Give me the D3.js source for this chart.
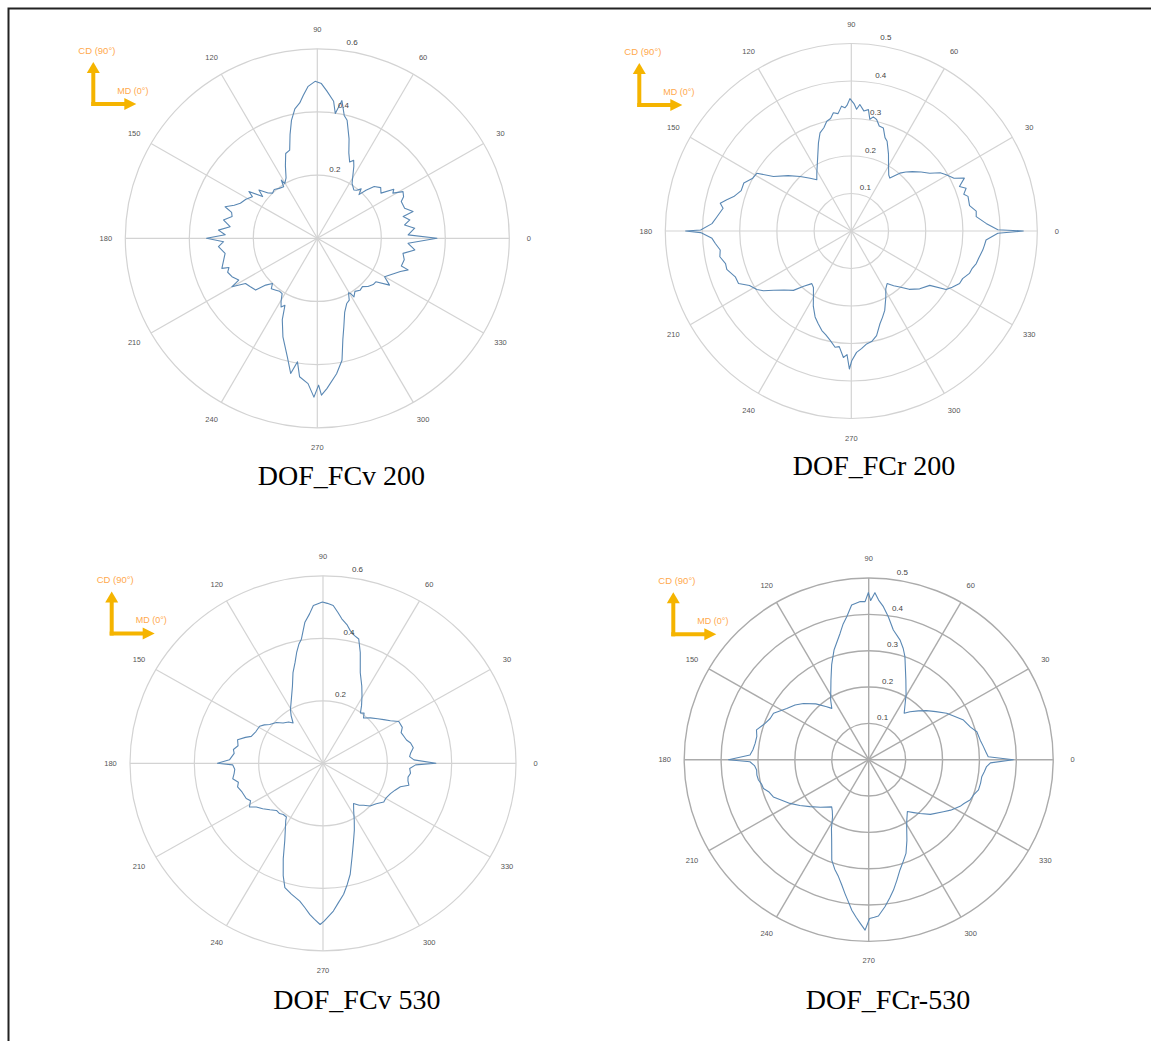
<!DOCTYPE html>
<html><head><meta charset="utf-8">
<script src="https://cdn.jsdelivr.net/npm/d3@7"></script>
<style>body{margin:0;background:#fff} svg{display:block}</style>
</head><body><svg id="c" width="1151" height="1041"></svg>
<script>
// ---------- DATA ----------
const captions = ["DOF_FCv 200", "DOF_FCr 200", "DOF_FCv 530", "DOF_FCr-530"];
const angleTicks = [0, 30, 60, 90, 120, 150, 180, 210, 240, 270, 300, 330];
const ringTicksV = [0.2, 0.4, 0.6];
const ringTicksR = [0.1, 0.2, 0.3, 0.4, 0.5];
const cdLabel = "CD (90°)";
const mdLabel = "MD (0°)";

const fcv200Angles = [0,2.2,6,8.8,11.4,14.4,15.8,19.2,23.9,26,28.9,31.2,33,35.7,39,42.7,45,46.7,48.8,51,53.3,58,63.4,65.3,67.3,70,72.5,76,77.8,80,81.9,83.3,86.3,88.5,90.8,93.4,95.5,97.3,99.7,102.2,104.5,107.2,110.2,113.5,117,120.4,121.4,122.8,127,131,134.4,137,140,142.3,145.3,147,151,155.2,158,160.9,163,165.5,168.8,172.3,175.2,177.8,180,182.1,184.9,189.4,193,197.7,198.5,201,204.5,208.3,209.9,212.5,216,220.4,222.6,225.6,228,231.8,235,237.9,240.5,242.5,244.5,247,251,256,259,261,262.8,266.4,268.8,270.5,271.5,273.6,278,281.3,284,286.5,290,294,297,299.5,300.7,301.7,305,309,312.7,316,320,323,326.7,329.9,334,338,340.6,341.5,346,349.9,353.1,356.8];
const fcv200Values = [.374,.284,.306,.276,.295,.277,.311,.289,.287,.30,.306,.276,.285,.245,.255,.242,.215,.19,.208,.196,.191,.205,.255,.272,.262,.288,.33,.385,.398,.443,.399,.437,.467,.49,.497,.482,.455,.432,.416,.382,.34,.292,.286,.25,.215,.201,.216,.194,.198,.205,.2,.21,.238,.216,.26,.242,.255,.265,.28,.305,.28,.275,.299,.275,.31,.288,.346,.293,.31,.292,.30,.313,.291,.30,.293,.279,.308,.266,.26,.253,.219,.2,.215,.209,.205,.207,.23,.245,.235,.28,.33,.387,.436,.396,.442,.461,.503,.465,.497,.477,.433,.394,.33,.292,.25,.226,.22,.198,.203,.218,.205,.212,.208,.22,.228,.229,.27,.243,.26,.28,.301,.277,.28,.272,.307,.284];

const fcr200Angles = [0,0.5,3.2,6.5,9,12,16.4,18,20.3,22.2,24.9,27,30.5,33,36.2,40,44,47,49.8,53.7,56,59.8,64,68.1,70,72.6,75,77.1,79,80.5,81.9,84,86.1,87.5,88.8,90.6,92,93,94.5,96.5,98.7,100.5,102.7,105,107.8,110.6,116.7,121,124.2,128.2,133.4,139,145.2,148.8,152,156.1,160,163.8,166,168.1,170,174,177,179.6,180,180.6,183,185.2,188.2,191,194.4,197,201.4,204.8,208,211.6,214,217.1,221,225.5,229,232.9,236,239.9,243,247,250,253.4,256,259,262,264,266.4,268,269.2,270.2,272.5,275,277.8,280.5,283.7,287.3,290,293,297.8,301,304.5,308,311.1,315,320,325.5,328.5,331,334.3,337,340.4,343,345.5,348,351.8,354,356.2,359.1];
const fcr200Values = [.4625,.394,.363,.338,.34,.325,.327,.318,.329,.314,.335,.31,.296,.285,.261,.245,.228,.215,.202,.175,.18,.199,.228,.258,.265,.288,.29,.305,.31,.302,.327,.322,.338,.325,.34,.353,.335,.329,.334,.315,.319,.305,.3,.285,.275,.251,.203,.18,.165,.179,.2,.225,.255,.297,.30,.316,.315,.329,.345,.36,.35,.363,.375,.405,.4455,.405,.375,.367,.356,.36,.349,.35,.335,.334,.31,.298,.285,.262,.24,.222,.195,.176,.182,.203,.225,.249,.262,.277,.285,.297,.313,.31,.338,.33,.368,.346,.324,.315,.304,.30,.287,.259,.245,.23,.199,.18,.17,.185,.198,.22,.24,.256,.299,.31,.323,.325,.337,.34,.347,.35,.357,.36,.363,.394];

const fcv530Angles = [0,2.2,4.5,6.7,10,13.4,16,18.8,22,25,29.6,33,36.5,40,44.6,49,51.5,54.2,57,60.6,64,68.2,71.9,74.4,76.5,78.7,80.5,82.8,84.5,86.4,88.5,90.2,92,93.4,95,97.1,99.6,101,103,105,107.8,111,115.7,120.4,123,125.8,129,133.9,138,143.2,146,149,154,158.9,161,164.2,168,171,173.4,177.8,180,181,184,186.6,190,193,195.8,200,205.3,208,211.4,214,217.8,222,226.2,230,233,236.5,237.6,244.3,248,251,253.4,256.8,260.7,263,265.2,267,269,270.4,272,273.9,276,278.7,281,283.4,287,291,294.5,298,302,306.4,310,313.2,317,322,326.7,330,335.2,339,342.7,345.3,348,350.5,353.3,356.5,359];
const fcv530Values = [.351,.283,.27,.274,.285,.28,.27,.266,.262,.272,.271,.25,.235,.222,.207,.192,.205,.199,.22,.247,.275,.312,.373,.413,.42,.433,.45,.466,.485,.506,.512,.516,.51,.506,.48,.455,.403,.39,.364,.335,.305,.265,.227,.2,.182,.159,.17,.179,.195,.207,.22,.23,.232,.239,.255,.276,.27,.282,.278,.291,.328,.281,.275,.278,.285,.27,.276,.268,.264,.255,.268,.25,.237,.222,.209,.21,.205,.206,.216,.274,.33,.38,.415,.43,.447,.465,.486,.5,.516,.505,.49,.474,.45,.424,.395,.365,.31,.265,.235,.207,.18,.16,.175,.184,.2,.21,.226,.225,.231,.24,.252,.276,.27,.268,.274,.27,.288];

const fcr530Angles = [0,1.4,4,6.6,10.1,14.7,18,23,27,31.2,36,40.7,45,49.7,53.1,56,60.4,65.3,70.9,73,75.5,79.4,82.3,84.6,86.5,87.9,89.3,90.1,91.3,93,96.2,98.6,100.5,102.6,107.3,111,115,122.1,125.3,128,133,138.8,143,147.6,153.6,157,160.4,164.9,168,171.7,175,177.7,180,181,183,185.3,188,190.6,193,195.5,198,201.6,205,209.4,214,219,225,232.3,235,238,242,245.6,250.1,253,255.7,258,260.1,262,263.7,265.5,267.1,268.8,270.3,272,273.5,276.2,278.5,280.6,283,285.6,288.5,291.4,295,299.2,302,306.3,310,313.2,318,324.7,328,332.6,335,338,341,344.4,348,351.3,354,356.6,358.5];
const fcr530Values = [.392,.324,.318,.313,.307,.303,.29,.279,.262,.247,.225,.207,.19,.173,.16,.175,.205,.241,.3,.32,.34,.363,.397,.423,.44,.46,.438,.46,.435,.436,.428,.398,.38,.356,.316,.28,.242,.194,.173,.185,.21,.235,.25,.263,.288,.29,.298,.315,.31,.311,.315,.322,.38,.322,.31,.305,.306,.304,.298,.296,.285,.278,.262,.245,.225,.205,.185,.164,.172,.185,.215,.243,.294,.315,.332,.352,.374,.395,.417,.435,.451,.469,.437,.434,.431,.407,.385,.365,.34,.315,.295,.277,.245,.211,.195,.177,.19,.203,.225,.248,.262,.279,.285,.296,.3,.309,.31,.31,.315,.32,.33];

// ---------- LAYOUT ----------
const panels = [
  {angles: fcv200Angles, values: fcv200Values, max: 0.6, rings: ringTicksV, caption: captions[0],
   cx: 317.3, cy: 238.3, rx: 192, ry: 189.5, grid: "#d3d3d3", capX: 341.5, capY: 485, ax: 93.3, ay: 104},
  {angles: fcr200Angles, values: fcr200Values, max: 0.5, rings: ringTicksR, caption: captions[1],
   cx: 851.3, cy: 231, rx: 186, ry: 187.5, grid: "#d3d3d3", capX: 874, capY: 475, ax: 639.3, ay: 105},
  {angles: fcv530Angles, values: fcv530Values, max: 0.6, rings: ringTicksV, caption: captions[2],
   cx: 323, cy: 763.3, rx: 193, ry: 187.5, grid: "#d3d3d3", capX: 357, capY: 1009, ax: 111.7, ay: 633.5},
  {angles: fcr530Angles, values: fcr530Values, max: 0.5, rings: ringTicksR, caption: captions[3],
   cx: 868.7, cy: 759.7, rx: 184.5, ry: 181.7, grid: "#ababab", capX: 888, capY: 1009, ax: 673.3, ay: 634.3}
];

const svg = d3.select("#c");
svg.append("rect").attr("width", 1151).attr("height", 1041).attr("fill", "#fff");

// frame
svg.append("path").attr("d", "M8.5,1041 V8.5 H1151")
  .attr("fill", "none").attr("stroke", "#222").attr("stroke-width", 2);

const rad = d => d * Math.PI / 180;

panels.forEach(p => {
  const g = svg.append("g").attr("transform", `translate(${p.cx},${p.cy})`);
  const xs = d3.scaleLinear().domain([0, p.max]).range([0, p.rx]);
  const ys = d3.scaleLinear().domain([0, p.max]).range([0, p.ry]);
  const sw = p.grid === "#ababab" ? 1.4 : 1.2;

  // rings
  g.selectAll("ellipse.ring").data(p.rings).enter().append("ellipse")
    .attr("cx", 0).attr("cy", 0)
    .attr("rx", d => xs(d)).attr("ry", d => ys(d))
    .attr("fill", "none").attr("stroke", p.grid).attr("stroke-width", sw);

  // spokes
  g.selectAll("line.spoke").data(angleTicks).enter().append("line")
    .attr("x1", 0).attr("y1", 0)
    .attr("x2", d => xs(p.max) * Math.cos(rad(d)))
    .attr("y2", d => -ys(p.max) * Math.sin(rad(d)))
    .attr("stroke", p.grid).attr("stroke-width", sw);

  // angle labels
  g.selectAll("text.ang").data(angleTicks).enter().append("text")
    .attr("x", d => (xs(p.max) + 19.5) * Math.cos(rad(d)))
    .attr("y", d => -(ys(p.max) + 19.5) * Math.sin(rad(d)))
    .attr("text-anchor", "middle").attr("dominant-baseline", "central")
    .attr("font-family", "Liberation Sans, Arial, sans-serif").attr("font-size", 7.5)
    .attr("fill", "#555").text(d => d);

  // series line
  const pts = p.angles.map((a, i) => ({a: a, v: p.values[i]}));
  const line = d3.line()
    .x(d => xs(d.v) * Math.cos(rad(d.a)))
    .y(d => -ys(d.v) * Math.sin(rad(d.a)))
    .curve(d3.curveLinearClosed);
  g.append("path").datum(pts).attr("d", line)
    .attr("fill", "none").attr("stroke", "#5a88b4").attr("stroke-width", 1.1)
    .attr("stroke-linejoin", "round");

  // ring labels
  g.selectAll("text.rl").data(p.rings).enter().append("text")
    .attr("x", d => 9 + 0.136 * ys(d))
    .attr("y", d => -ys(d) - 6)
    .attr("text-anchor", "middle").attr("dominant-baseline", "central")
    .attr("font-family", "Liberation Sans, Arial, sans-serif").attr("font-size", 8)
    .attr("fill", "#444").text(d => d3.format(".1f")(d));

  // caption
  svg.append("text").attr("x", p.capX).attr("y", p.capY)
    .attr("text-anchor", "middle")
    .attr("font-family", "Liberation Serif, Times New Roman, serif").attr("font-size", 28)
    .attr("fill", "#000").text(p.caption);

  // direction arrows
  const ag = svg.append("g");
  const col = "#F5B400";
  ag.append("line").attr("x1", p.ax).attr("y1", p.ay + 2).attr("x2", p.ax).attr("y2", p.ay - 32)
    .attr("stroke", col).attr("stroke-width", 4);
  ag.append("path").attr("d", `M${p.ax},${p.ay - 42} L${p.ax - 6.5},${p.ay - 31} L${p.ax + 6.5},${p.ay - 31} Z`).attr("fill", col);
  ag.append("line").attr("x1", p.ax - 2).attr("y1", p.ay).attr("x2", p.ax + 32).attr("y2", p.ay)
    .attr("stroke", col).attr("stroke-width", 4);
  ag.append("path").attr("d", `M${p.ax + 43},${p.ay} L${p.ax + 31},${p.ay - 6} L${p.ax + 31},${p.ay + 6} Z`).attr("fill", col);
  ag.append("text").attr("x", p.ax - 15).attr("y", p.ay - 50.5)
    .attr("font-family", "Liberation Sans, Arial, sans-serif").attr("font-size", 9.5)
    .attr("fill", "#FFA94D").text(cdLabel);
  ag.append("text").attr("x", p.ax + 24).attr("y", p.ay - 10.5)
    .attr("font-family", "Liberation Sans, Arial, sans-serif").attr("font-size", 9)
    .attr("fill", "#FFA94D").text(mdLabel);
});
</script></body></html>
